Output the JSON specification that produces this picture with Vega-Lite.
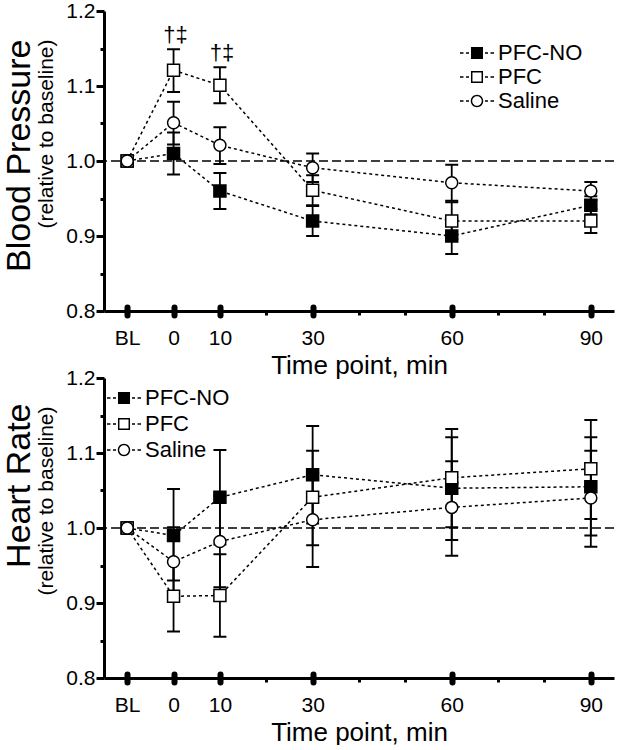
{
  "$schema": "https://vega.github.io/schema/vega-lite/v6.json",
  "padding": {"left": 1, "top": 0, "right": 0, "bottom": 0},
  "background": "white",
  "spacing": -12,
  "config": {
    "view": {"stroke": null},
    "font": "Liberation Sans",
    "axis": {"grid": false, "domainColor": "black", "tickColor": "black", "labelColor": "black", "titleColor": "black", "labelFont": "Liberation Sans", "titleFont": "Liberation Sans", "titleFontWeight": "normal"},
    "legend": {"labelFont": "Liberation Sans", "labelColor": "black"}
  },
  "datasets": {
    "bp": [
      {"group": "PFC-NO", "time": -10, "mean": 1.0, "lo": 1.0, "hi": 1.0, "sig": ""},
      {"group": "PFC-NO", "time": 0, "mean": 1.01, "lo": 0.982, "hi": 1.038, "sig": ""},
      {"group": "PFC-NO", "time": 10, "mean": 0.96, "lo": 0.936, "hi": 0.984, "sig": ""},
      {"group": "PFC-NO", "time": 30, "mean": 0.92, "lo": 0.9, "hi": 0.94, "sig": ""},
      {"group": "PFC-NO", "time": 60, "mean": 0.9, "lo": 0.876, "hi": 0.924, "sig": ""},
      {"group": "PFC-NO", "time": 90, "mean": 0.941, "lo": 0.929, "hi": 0.953, "sig": ""},
      {"group": "PFC", "time": -10, "mean": 1.0, "lo": 1.0, "hi": 1.0, "sig": ""},
      {"group": "PFC", "time": 0, "mean": 1.121, "lo": 1.092, "hi": 1.149, "sig": "†‡"},
      {"group": "PFC", "time": 10, "mean": 1.101, "lo": 1.077, "hi": 1.125, "sig": "†‡"},
      {"group": "PFC", "time": 30, "mean": 0.961, "lo": 0.941, "hi": 0.981, "sig": ""},
      {"group": "PFC", "time": 60, "mean": 0.92, "lo": 0.896, "hi": 0.945, "sig": ""},
      {"group": "PFC", "time": 90, "mean": 0.92, "lo": 0.904, "hi": 0.936, "sig": ""},
      {"group": "Saline", "time": -10, "mean": 1.0, "lo": 1.0, "hi": 1.0, "sig": ""},
      {"group": "Saline", "time": 0, "mean": 1.051, "lo": 1.022, "hi": 1.079, "sig": ""},
      {"group": "Saline", "time": 10, "mean": 1.021, "lo": 0.996, "hi": 1.045, "sig": ""},
      {"group": "Saline", "time": 30, "mean": 0.991, "lo": 0.972, "hi": 1.01, "sig": ""},
      {"group": "Saline", "time": 60, "mean": 0.971, "lo": 0.947, "hi": 0.995, "sig": ""},
      {"group": "Saline", "time": 90, "mean": 0.96, "lo": 0.948, "hi": 0.972, "sig": ""}
    ],
    "hr": [
      {"group": "PFC-NO", "time": -10, "mean": 1.0, "lo": 1.0, "hi": 1.0},
      {"group": "PFC-NO", "time": 0, "mean": 0.99, "lo": 0.93, "hi": 1.052},
      {"group": "PFC-NO", "time": 10, "mean": 1.041, "lo": 0.978, "hi": 1.104},
      {"group": "PFC-NO", "time": 30, "mean": 1.071, "lo": 1.006, "hi": 1.136},
      {"group": "PFC-NO", "time": 60, "mean": 1.053, "lo": 0.984, "hi": 1.121},
      {"group": "PFC-NO", "time": 90, "mean": 1.055, "lo": 0.99, "hi": 1.121},
      {"group": "PFC", "time": -10, "mean": 1.0, "lo": 1.0, "hi": 1.0},
      {"group": "PFC", "time": 0, "mean": 0.909, "lo": 0.862, "hi": 0.955},
      {"group": "PFC", "time": 10, "mean": 0.91, "lo": 0.855, "hi": 0.965},
      {"group": "PFC", "time": 30, "mean": 1.041, "lo": 0.977, "hi": 1.103},
      {"group": "PFC", "time": 60, "mean": 1.067, "lo": 1.001, "hi": 1.132},
      {"group": "PFC", "time": 90, "mean": 1.079, "lo": 1.012, "hi": 1.144},
      {"group": "Saline", "time": -10, "mean": 1.0, "lo": 1.0, "hi": 1.0},
      {"group": "Saline", "time": 0, "mean": 0.955, "lo": 0.909, "hi": 1.001},
      {"group": "Saline", "time": 10, "mean": 0.982, "lo": 0.921, "hi": 1.043},
      {"group": "Saline", "time": 30, "mean": 1.011, "lo": 0.948, "hi": 1.073},
      {"group": "Saline", "time": 60, "mean": 1.0275, "lo": 0.963, "hi": 1.089},
      {"group": "Saline", "time": 90, "mean": 1.04, "lo": 0.975, "hi": 1.103}
    ]
  },
  "resolve": {"scale": {"shape": "independent", "fill": "independent"}, "legend": {"shape": "independent", "fill": "independent"}},
  "vconcat": [
    {
      "width": 510,
      "height": 300,
      "data": {"name": "bp"},
      "resolve": {"scale": {"shape": "independent", "fill": "independent"}, "axis": {"x": "independent", "y": "independent"}},
      "layer": [
        {
          "data": {"values": [{}]},
          "mark": {"type": "rule", "strokeDash": [9, 4], "strokeWidth": 1.5, "color": "black"},
          "encoding": {"y": {"datum": 1, "type": "quantitative", "axis": null}}
        },
        {
          "mark": {"type": "line", "strokeDash": [3, 3], "strokeWidth": 1.5, "color": "black"},
          "encoding": {
            "x": {"field": "time", "type": "quantitative", "scale": {"domain": [-15, 95], "nice": false, "zero": false},
              "axis": {"orient": "bottom", "values": [-10, 0, 10, 30, 60, 90], "labelExpr": "datum.value == -10 ? 'BL' : datum.label", "title": "Time point, min", "titleFontSize": 26, "labelFontSize": 21, "tickSize": 4, "tickWidth": 6, "tickCap": "round", "domainWidth": 3, "labelPadding": 12, "titlePadding": 4, "labelFlush": false}},
            "y": {"field": "mean", "type": "quantitative", "scale": {"domain": [0.8, 1.2], "nice": false, "zero": false},
              "axis": {"orient": "left", "values": [0.8, 0.9, 1.0, 1.1, 1.2], "format": ".1f", "labelFontSize": 21, "tickSize": 8, "tickWidth": 3, "domainWidth": 3, "labelPadding": 1, "title": "(relative to baseline)", "titleFontSize": 21, "titlePadding": 9, "titleAnchor": "end", "titleAlign": "right", "titleY": 28}},
            "xOffset": {"field": "group", "type": "nominal", "scale": {"type": "point", "domain": ["Saline", "PFC", "PFC-NO"], "range": [-5, 4]}},
            "detail": {"field": "group"}
          }
        },
        {
          "transform": [{"filter": "datum.time > -10"}],
          "mark": {"type": "rule", "strokeWidth": 1.8, "color": "black"},
          "encoding": {
            "x": {"field": "time", "type": "quantitative",
              "axis": {"orient": "bottom", "values": [-10, 0, 10, 30, 60, 90], "tickSize": -4, "tickWidth": 6, "tickCap": "round", "labels": false, "domain": false, "title": null}},
            "xOffset": {"field": "group", "type": "nominal", "scale": {"type": "point", "domain": ["Saline", "PFC", "PFC-NO"], "range": [-5, 4]}},
            "y": {"field": "lo", "type": "quantitative",
              "axis": {"orient": "left", "labels": false, "ticks": false, "domain": false, "title": "Blood Pressure", "titleFontSize": 34, "titlePadding": 68, "titleAnchor": "end", "titleAlign": "right", "titleY": 28}},
            "y2": {"field": "hi"}
          }
        },
        {
          "transform": [{"filter": "datum.time > -10"}],
          "mark": {"type": "tick", "orient": "horizontal", "size": 13, "thickness": 2, "color": "black", "opacity": 1},
          "encoding": {
            "x": {"field": "time", "type": "quantitative",
              "axis": {"orient": "bottom", "values": [20, 40, 50, 70, 80], "tickSize": 4, "tickWidth": 3, "labels": false, "domain": false, "title": null}},
            "xOffset": {"field": "group", "type": "nominal", "scale": {"type": "point", "domain": ["Saline", "PFC", "PFC-NO"], "range": [-5, 4]}},
            "y": {"field": "hi", "type": "quantitative",
              "axis": {"orient": "left", "values": [0.85, 0.95, 1.05, 1.15], "tickSize": 4, "tickWidth": 3, "labels": false, "domain": false, "title": null}}
          }
        },
        {
          "transform": [{"filter": "datum.time > -10"}],
          "mark": {"type": "tick", "orient": "horizontal", "size": 13, "thickness": 2, "color": "black", "opacity": 1},
          "encoding": {
            "x": {"field": "time", "type": "quantitative", "axis": null},
            "xOffset": {"field": "group", "type": "nominal", "scale": {"type": "point", "domain": ["Saline", "PFC", "PFC-NO"], "range": [-5, 4]}},
            "y": {"field": "lo", "type": "quantitative", "axis": null}
          }
        },
        {
          "transform": [{"filter": "datum.time > -10"}],
          "mark": {"type": "point", "filled": true, "opacity": 1, "size": 144, "stroke": "black", "strokeWidth": 1.5},
          "encoding": {
            "x": {"field": "time", "type": "quantitative", "axis": null},
            "xOffset": {"field": "group", "type": "nominal", "scale": {"type": "point", "domain": ["Saline", "PFC", "PFC-NO"], "range": [-5, 4]}},
            "y": {"field": "mean", "type": "quantitative", "axis": null},
            "shape": {"field": "group", "type": "nominal", "scale": {"domain": ["PFC-NO", "PFC", "Saline"], "range": ["square", "square", "circle"]}, "legend": null},
            "fill": {"field": "group", "type": "nominal", "scale": {"domain": ["PFC-NO", "PFC", "Saline"], "range": ["black", "white", "white"]}, "legend": null}
          }
        },
        {
          "transform": [{"filter": "datum.time == -10"}],
          "mark": {"type": "point", "filled": true, "opacity": 1, "size": 144, "stroke": "black", "strokeWidth": 1.5},
          "encoding": {
            "x": {"field": "time", "type": "quantitative", "axis": null},
            "y": {"field": "mean", "type": "quantitative", "axis": null},
            "shape": {"field": "group", "type": "nominal", "scale": {"domain": ["PFC-NO", "PFC", "Saline"], "range": ["square", "square", "circle"]}, "legend": null},
            "fill": {"field": "group", "type": "nominal", "scale": {"domain": ["PFC-NO", "PFC", "Saline"], "range": ["black", "white", "white"]}, "legend": null}
          }
        },
        {
          "transform": [{"filter": "datum.time == -10"}],
          "mark": {"type": "point", "filled": true, "opacity": 0, "fill": "black"},
          "encoding": {
            "x": {"field": "time", "type": "quantitative", "axis": null},
            "y": {"field": "mean", "type": "quantitative", "axis": null},
            "shape": {"field": "group", "type": "nominal",
              "scale": {"domain": ["PFC-NO", "PFC", "Saline"], "range": [
                "M-2.43,-0.11H-1.93V0.11H-2.43ZM-1.57,-0.11H-1.14V0.11H-1.57ZM1.14,-0.11H1.57V0.11H1.14ZM1.93,-0.11H2.43V0.11H1.93ZM-0.86,-0.86H0.86V0.86H-0.86Z",
                "M-2.43,-0.11H-1.93V0.11H-2.43ZM-1.57,-0.11H-1.14V0.11H-1.57ZM1.14,-0.11H1.57V0.11H1.14ZM1.93,-0.11H2.43V0.11H1.93ZM-0.86,-0.86H0.86V0.86H-0.86ZM-0.65,-0.65V0.65H0.65V-0.65Z",
                "M-2.43,-0.11H-1.93V0.11H-2.43ZM-1.57,-0.11H-1.14V0.11H-1.57ZM1.14,-0.11H1.57V0.11H1.14ZM1.93,-0.11H2.43V0.11H1.93ZM-0.89,0A0.89,0.89,0,1,1,0.89,0A0.89,0.89,0,1,1,-0.89,0ZM-0.68,0A0.68,0.68,0,1,0,0.68,0A0.68,0.68,0,1,0,-0.68,0Z"]},
              "legend": {"title": null, "orient": "top-right", "offset": 31, "labelFontSize": 22, "symbolSize": 196, "symbolStrokeWidth": 0, "symbolFillColor": "black", "symbolOpacity": 1, "labelOffset": 10, "rowPadding": 2, "padding": 0}}
          }
        },
        {
          "transform": [{"filter": "datum.sig != ''"}],
          "mark": {"type": "text", "fontSize": 22, "baseline": "bottom", "dy": -2, "dx": 2, "color": "black", "font": "Liberation Sans"},
          "encoding": {
            "x": {"field": "time", "type": "quantitative", "axis": null},
            "xOffset": {"field": "group", "type": "nominal", "scale": {"type": "point", "domain": ["Saline", "PFC", "PFC-NO"], "range": [-5, 4]}},
            "y": {"field": "hi", "type": "quantitative", "axis": null},
            "text": {"field": "sig"}
          }
        }
      ]
    },
    {
      "width": 510,
      "height": 300,
      "data": {"name": "hr"},
      "resolve": {"scale": {"shape": "independent", "fill": "independent"}, "axis": {"x": "independent", "y": "independent"}},
      "layer": [
        {
          "data": {"values": [{}]},
          "mark": {"type": "rule", "strokeDash": [9, 4], "strokeWidth": 1.5, "color": "black"},
          "encoding": {"y": {"datum": 1, "type": "quantitative", "axis": null}}
        },
        {
          "mark": {"type": "line", "strokeDash": [3, 3], "strokeWidth": 1.5, "color": "black"},
          "encoding": {
            "x": {"field": "time", "type": "quantitative", "scale": {"domain": [-15, 95], "nice": false, "zero": false},
              "axis": {"orient": "bottom", "values": [-10, 0, 10, 30, 60, 90], "labelExpr": "datum.value == -10 ? 'BL' : datum.label", "title": "Time point, min", "titleFontSize": 26, "labelFontSize": 21, "tickSize": 4, "tickWidth": 6, "tickCap": "round", "domainWidth": 3, "labelPadding": 12, "titlePadding": 4, "labelFlush": false}},
            "y": {"field": "mean", "type": "quantitative", "scale": {"domain": [0.8, 1.2], "nice": false, "zero": false},
              "axis": {"orient": "left", "values": [0.8, 0.9, 1.0, 1.1, 1.2], "format": ".1f", "labelFontSize": 21, "tickSize": 8, "tickWidth": 3, "domainWidth": 3, "labelPadding": 1, "title": "(relative to baseline)", "titleFontSize": 21, "titlePadding": 9, "titleAnchor": "end", "titleAlign": "right", "titleY": 28}},
            "xOffset": {"field": "group", "type": "nominal", "scale": {"type": "point", "domain": ["Saline", "PFC", "PFC-NO"], "range": [-5, 4]}},
            "detail": {"field": "group"}
          }
        },
        {
          "transform": [{"filter": "datum.time > -10"}],
          "mark": {"type": "rule", "strokeWidth": 1.8, "color": "black"},
          "encoding": {
            "x": {"field": "time", "type": "quantitative",
              "axis": {"orient": "bottom", "values": [-10, 0, 10, 30, 60, 90], "tickSize": -4, "tickWidth": 6, "tickCap": "round", "labels": false, "domain": false, "title": null}},
            "xOffset": {"field": "group", "type": "nominal", "scale": {"type": "point", "domain": ["Saline", "PFC", "PFC-NO"], "range": [-5, 4]}},
            "y": {"field": "lo", "type": "quantitative",
              "axis": {"orient": "left", "labels": false, "ticks": false, "domain": false, "title": "Heart Rate", "titleFontSize": 34, "titlePadding": 68, "titleAnchor": "end", "titleAlign": "right", "titleY": 25}},
            "y2": {"field": "hi"}
          }
        },
        {
          "transform": [{"filter": "datum.time > -10"}],
          "mark": {"type": "tick", "orient": "horizontal", "size": 13, "thickness": 2, "color": "black", "opacity": 1},
          "encoding": {
            "x": {"field": "time", "type": "quantitative",
              "axis": {"orient": "bottom", "values": [20, 40, 50, 70, 80], "tickSize": 4, "tickWidth": 3, "labels": false, "domain": false, "title": null}},
            "xOffset": {"field": "group", "type": "nominal", "scale": {"type": "point", "domain": ["Saline", "PFC", "PFC-NO"], "range": [-5, 4]}},
            "y": {"field": "hi", "type": "quantitative",
              "axis": {"orient": "left", "values": [0.85, 0.95, 1.05, 1.15], "tickSize": 4, "tickWidth": 3, "labels": false, "domain": false, "title": null}}
          }
        },
        {
          "transform": [{"filter": "datum.time > -10"}],
          "mark": {"type": "tick", "orient": "horizontal", "size": 13, "thickness": 2, "color": "black", "opacity": 1},
          "encoding": {
            "x": {"field": "time", "type": "quantitative", "axis": null},
            "xOffset": {"field": "group", "type": "nominal", "scale": {"type": "point", "domain": ["Saline", "PFC", "PFC-NO"], "range": [-5, 4]}},
            "y": {"field": "lo", "type": "quantitative", "axis": null}
          }
        },
        {
          "transform": [{"filter": "datum.time > -10"}],
          "mark": {"type": "point", "filled": true, "opacity": 1, "size": 144, "stroke": "black", "strokeWidth": 1.5},
          "encoding": {
            "x": {"field": "time", "type": "quantitative", "axis": null},
            "xOffset": {"field": "group", "type": "nominal", "scale": {"type": "point", "domain": ["Saline", "PFC", "PFC-NO"], "range": [-5, 4]}},
            "y": {"field": "mean", "type": "quantitative", "axis": null},
            "shape": {"field": "group", "type": "nominal", "scale": {"domain": ["PFC-NO", "PFC", "Saline"], "range": ["square", "square", "circle"]}, "legend": null},
            "fill": {"field": "group", "type": "nominal", "scale": {"domain": ["PFC-NO", "PFC", "Saline"], "range": ["black", "white", "white"]}, "legend": null}
          }
        },
        {
          "transform": [{"filter": "datum.time == -10"}],
          "mark": {"type": "point", "filled": true, "opacity": 1, "size": 144, "stroke": "black", "strokeWidth": 1.5},
          "encoding": {
            "x": {"field": "time", "type": "quantitative", "axis": null},
            "y": {"field": "mean", "type": "quantitative", "axis": null},
            "shape": {"field": "group", "type": "nominal", "scale": {"domain": ["PFC-NO", "PFC", "Saline"], "range": ["square", "square", "circle"]}, "legend": null},
            "fill": {"field": "group", "type": "nominal", "scale": {"domain": ["PFC-NO", "PFC", "Saline"], "range": ["black", "white", "white"]}, "legend": null}
          }
        },
        {
          "transform": [{"filter": "datum.time == -10"}],
          "mark": {"type": "point", "filled": true, "opacity": 0, "fill": "black"},
          "encoding": {
            "x": {"field": "time", "type": "quantitative", "axis": null},
            "y": {"field": "mean", "type": "quantitative", "axis": null},
            "shape": {"field": "group", "type": "nominal",
              "scale": {"domain": ["PFC-NO", "PFC", "Saline"], "range": [
                "M-2.43,-0.11H-1.93V0.11H-2.43ZM-1.57,-0.11H-1.14V0.11H-1.57ZM1.14,-0.11H1.57V0.11H1.14ZM1.93,-0.11H2.43V0.11H1.93ZM-0.86,-0.86H0.86V0.86H-0.86Z",
                "M-2.43,-0.11H-1.93V0.11H-2.43ZM-1.57,-0.11H-1.14V0.11H-1.57ZM1.14,-0.11H1.57V0.11H1.14ZM1.93,-0.11H2.43V0.11H1.93ZM-0.86,-0.86H0.86V0.86H-0.86ZM-0.65,-0.65V0.65H0.65V-0.65Z",
                "M-2.43,-0.11H-1.93V0.11H-2.43ZM-1.57,-0.11H-1.14V0.11H-1.57ZM1.14,-0.11H1.57V0.11H1.14ZM1.93,-0.11H2.43V0.11H1.93ZM-0.89,0A0.89,0.89,0,1,1,0.89,0A0.89,0.89,0,1,1,-0.89,0ZM-0.68,0A0.68,0.68,0,1,0,0.68,0A0.68,0.68,0,1,0,-0.68,0Z"]},
              "legend": {"title": null, "orient": "top-left", "offset": 9, "labelFontSize": 22, "symbolSize": 196, "symbolStrokeWidth": 0, "symbolFillColor": "black", "symbolOpacity": 1, "labelOffset": 10, "rowPadding": 4, "padding": 0}}
          }
        }
      ]
    }
  ]
}
